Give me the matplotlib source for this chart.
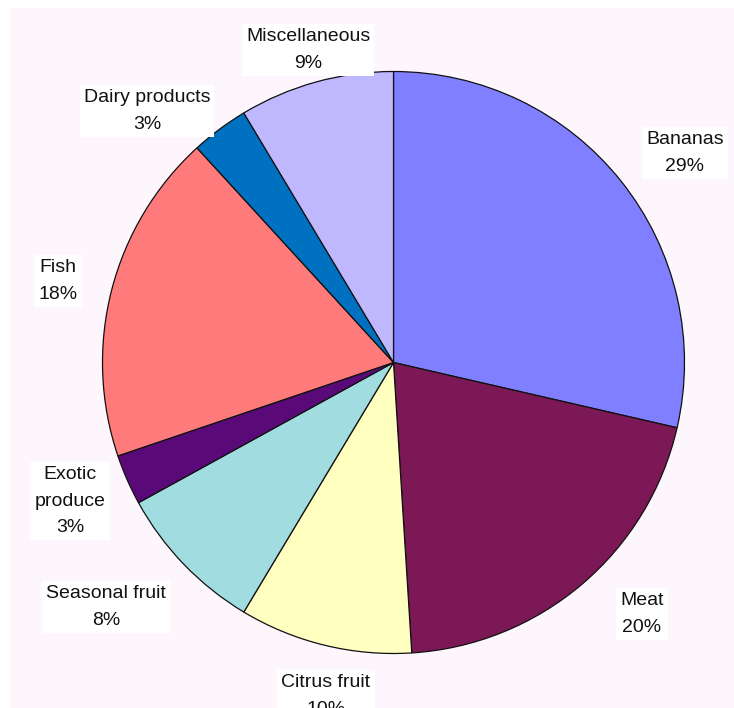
import matplotlib
matplotlib.use("Agg")
import matplotlib.pyplot as plt
from matplotlib.patches import Rectangle

# data (shares, rounded labels match the picture)
categories = ["Bananas", "Meat", "Citrus fruit", "Seasonal fruit",
              "Exotic\nproduce", "Fish", "Dairy products", "Miscellaneous"]
shares = [28.6, 20.4, 9.6, 8.4, 2.8, 18.4, 3.2, 8.6]
colors = ["#7F7FFF", "#7B1855", "#FFFFC0", "#A0DCE0",
          "#5A0A78", "#FF7B7B", "#0070C0", "#C0B8FF"]

# label centres in pixel coords (x, y from top)
label_pos = [(685, 153), (642, 614), (326, 696), (106, 607),
             (70, 501), (58, 281), (147, 111), (308, 50)]

W, H = 734, 708
bg = "#FDF6FD"

fig = plt.figure(figsize=(W / 100, H / 100), dpi=100)
fig.patch.set_facecolor("white")
ax = fig.add_axes([0, 0, 1, 1])

ax.add_patch(Rectangle((10, 0), W - 10, H - 8, facecolor=bg,
                       edgecolor="none", zorder=0))

ax.pie(shares, colors=colors, startangle=90, counterclock=False,
       center=(393.5, H - 362.5), radius=291,
       wedgeprops=dict(edgecolor="#111111", linewidth=0.9))

for name, val, (px, py) in zip(categories, shares, label_pos):
    ax.text(px, H - py, f"{name}\n{val:.0f}%", ha="center", va="center",
            multialignment="center", fontsize=14, linespacing=1.7,
            family=["Liberation Sans", "DejaVu Sans"], color="#111111",
            bbox=dict(facecolor="white", edgecolor="none", pad=3))

ax.set_xlim(0, W)
ax.set_ylim(0, H)
ax.axis("off")

fig.savefig("out.png", dpi=100)
